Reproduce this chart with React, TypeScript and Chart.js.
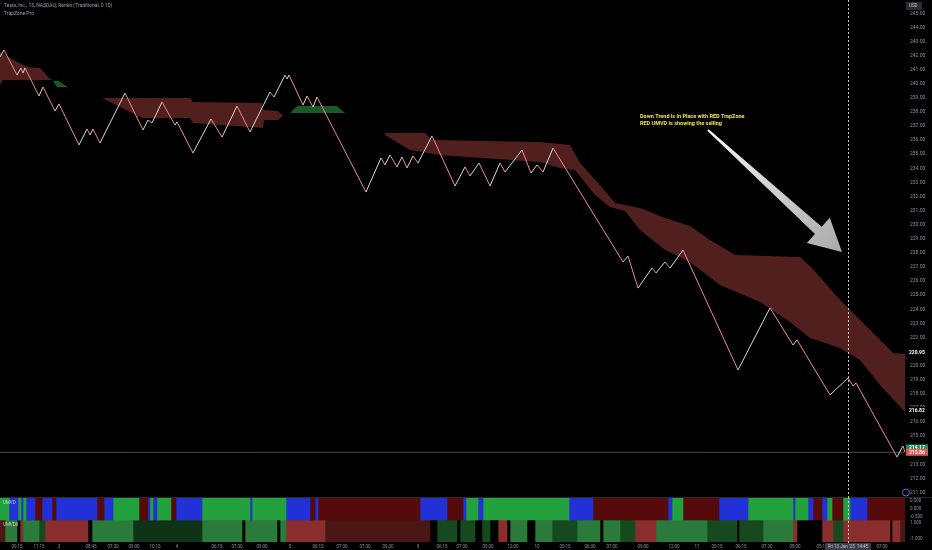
import React, { useEffect, useRef } from 'react';
import { Chart, registerables } from 'chart.js';
Chart.register(...registerables);

const FONT = 'Roboto, "Noto Sans", sans-serif';
const AXIS_TEXT = '#8d919a';

// ---------- main pane data (bar index, price) ----------
const X_MAX = 905;
const Y_MIN = 210.69;
const Y_MAX = 245.94;
const LAST_PRICE = 213.86;
const CURSOR_BAR = 848;

const renkoPivots: [number, number][] = [
  [0, 241.9], [4, 242.4], [17, 240.62], [21, 241.12], [23, 240.76], [25, 241.12], [39, 239.13], [43, 239.77],
  [55, 238.07], [59, 238.57], [79, 235.66], [87, 236.79], [90, 236.37], [93, 236.79], [100, 235.8], [125, 239.34],
  [143, 236.72], [148, 237.43], [152, 237.22], [162, 238.71], [175, 237.07], [177, 237.29], [193, 235.09], [211, 237.5],
  [222, 236.22], [237, 238.42], [250, 236.58], [270, 239.42], [274, 239.06], [285, 240.62], [287, 240.34], [289, 240.62],
  [303, 238.49], [307, 239.13], [313, 238.35], [317, 239.06], [366, 232.32], [381, 234.74], [385, 234.24], [390, 234.95],
  [397, 234.1], [402, 234.81], [407, 234.03], [413, 234.88], [418, 234.38], [432, 236.3], [455, 232.75], [465, 234.1],
  [470, 233.46], [479, 234.38], [490, 232.75], [500, 234.38], [505, 233.74], [522, 235.3], [531, 233.67], [537, 234.24],
  [543, 233.74], [553, 235.44], [623, 227.36], [628, 227.78], [638, 225.51], [652, 226.93], [656, 226.58], [665, 227.36],
  [670, 226.93], [683, 228.21], [738, 219.7], [770, 224.1], [793, 221.47], [797, 221.83], [830, 217.93], [848, 219.13],
  [853, 218.57], [856, 218.78], [897, 213.53], [903, 214.31], [905, 213.88],
];

// TrapZone cloud edges
const zoneA_top: [number, number][] = [[0, 242.25], [10, 241.83], [27, 241.19], [40, 241.12], [50, 240.34], [53, 240.27]];
const zoneA_bot: [number, number][] = [[0, 239.92], [3, 240.27], [53, 240.27]];
const zoneAg_top: [number, number][] = [[53, 240.22], [58, 240.22], [68, 239.75]];
const zoneAg_bot: [number, number][] = [[53, 240.22], [57, 239.75], [68, 239.75]];
const zoneB_top: [number, number][] = [[102, 238.99], [190, 238.99], [193, 238.71], [262, 238.64], [263, 238.14], [278, 238.07], [283, 237.72]];
const zoneB_bot: [number, number][] = [[102, 238.99], [120, 238.35], [143, 237.57], [190, 237.57], [193, 237.22], [263, 236.86], [264, 237.43], [278, 237.43], [283, 237.72]];
const zoneC_top: [number, number][] = [[290, 237.93], [297, 238.43], [337, 238.43], [345, 237.93]];
const zoneC_bot: [number, number][] = [[290, 237.93], [345, 237.93]];
const zoneD_top: [number, number][] = [
  [385, 236.51], [425, 236.51], [432, 236.01], [540, 235.87], [570, 235.66], [580, 234.38], [600, 232.82], [615, 231.55],
  [640, 231.19], [665, 230.48], [690, 229.91], [710, 228.92], [735, 227.86], [800, 227.72], [812, 226.94], [840, 224.67],
  [860, 223.25], [885, 221.48], [893, 220.91], [905, 220.84],
];
const zoneD_bot: [number, number][] = [
  [385, 236.37], [410, 235.3], [440, 234.95], [540, 234.45], [560, 234.03], [575, 233.89], [595, 232.11], [610, 231.26],
  [625, 230.98], [640, 229.63], [665, 228.21], [690, 227.36], [720, 225.73], [760, 224.52], [790, 223.11], [810, 221.97],
  [840, 221.26], [860, 220.41], [880, 218.64], [905, 216.72],
];

const noteLines = ['Down Trend is in Place with RED TrapZone', 'RED UMVD is showing the selling'];
const noteBar = 640;
const notePrices = [237.64, 237.15];
const arrowBars = [708, 842];
const arrowPrices = [236.72, 228.07];

const priceTags = [
  { price: 220.95, bg: '#000000', fg: '#ffffff' },
  { price: 216.82, bg: '#000000', fg: '#ffffff' },
  { price: 214.17, bg: '#1f8f5a', fg: '#ffffff' },
  { price: 213.86, bg: '#e0534f', fg: '#ffffff' },
];

// ---------- indicator strips ----------
const STRIP_END = 906;
const umvdStarts = [0, 9, 18, 21, 23, 26, 35, 42, 52, 56, 97, 104, 113, 139, 148, 150, 153, 157, 171, 176, 202, 250, 252, 286, 310, 315, 318, 420, 447, 463, 466, 478, 483, 569, 593, 668, 672, 683, 719, 748, 793, 795, 808, 813, 822, 827, 832, 843, 850, 867];
const umvdKinds = ['g', 'b', 'g', 'b', 'g', 'b', 'r', 'b', 'r', 'b', 'r', 'b', 'g', 'r', 'b', 'g', 'b', 'g', 'r', 'b', 'g', 'b', 'g', 'b', 'r', 'b', 'r', 'b', 'r', 'b', 'g', 'b', 'g', 'b', 'r', 'b', 'g', 'r', 'b', 'g', 'b', 'g', 'b', 'r', 'b', 'g', 'r', 'g', 'b', 'r'];
const umvdxStarts = [0, 5, 17, 20, 23, 39, 45, 88, 92, 133, 202, 242, 245, 277, 280, 286, 325, 430, 437, 457, 460, 475, 482, 490, 498, 507, 510, 527, 535, 552, 577, 600, 603, 620, 635, 656, 707, 737, 739, 763, 793, 797, 822, 833, 843, 890, 892, 900];
const umvdxKinds = ['D', 'G', 'k', 'R', 'G', 'h', 'R', 'k', 'G', 'd', 'G', 'k', 'G', 'k', 'G', 'R', 'D', 'k', 'h', 'k', 'h', 'k', 'h', 'k', 'R', 'k', 'G', 'k', 'G', 'h', 'G', 'k', 'G', 'h', 'R', 'G', 'h', 'k', 'h', 'G', 'R', 'k', 'R', 'h', 'R', 'k', 'R', 'D'];
const stripPalette: Record<string, string> = {
  b: '#2231d6', g: '#22a13c', r: '#560a0a',
  R: '#8a2d2d', D: '#4a1616', G: '#2a7b39', h: '#17491f', d: '#0f3317', k: '#000000',
};
const stripRows = ['UMVD', 'UMVDX'];
const stripAxisLabels = [['0.500', '0.000', '-0.500'], ['1.000', '-1.000']];

const timeTickBars = [17, 39, 59, 91, 113, 134, 155, 177, 217, 237, 262, 290, 318, 342, 365, 388, 418, 442, 462, 488, 513, 537, 565, 590, 612, 643, 674, 697, 717, 741, 767, 795, 822, 882];
const timeTickLabels = ['09:15', '11:15', '3', '08:45', '07:30', '09:00', '10:15', '4', '06:15', '07:30', '09:00', '5', '06:15', '07:30', '07:30', '09:30', '9', '06:15', '07:30', '09:00', '12:00', '10', '05:15', '06:30', '07:00', '09:00', '12:00', '11', '05:15', '06:15', '07:30', '08:00', '05:15', '07:00'];
const cursorLabel = "Fri 13 Jun '25  14:45";

const pts = (a: [number, number][]) => a.map(([x, y]) => ({ x, y }));

function zonePair(top: [number, number][], bot: [number, number][], color: string) {
  return [
    { type: 'line', data: pts(top), borderWidth: 0, pointRadius: 0, backgroundColor: color, fill: { target: '+1' }, order: 5, tension: 0 },
    { type: 'line', data: pts(bot), borderWidth: 0, pointRadius: 0, fill: false, order: 5, tension: 0 },
  ];
}

const RED_ZONE = 'rgba(96,36,36,0.85)';
const GREEN_ZONE = 'rgba(28,100,44,0.9)';

function drawCursor(chart: any, ctx: CanvasRenderingContext2D) {
  const x = Math.round(chart.scales.x.getPixelForValue(CURSOR_BAR)) + 0.5;
  ctx.save();
  ctx.strokeStyle = 'rgba(220,220,220,0.9)';
  ctx.lineWidth = 1;
  ctx.setLineDash([2, 2]);
  ctx.beginPath();
  ctx.moveTo(x, 0);
  ctx.lineTo(x, chart.height);
  ctx.stroke();
  ctx.restore();
}

const mainOverlay = {
  id: 'mainOverlay',
  afterDraw(chart: any) {
    const { ctx, scales } = chart;
    const xs = scales.x, ys = scales.y;
    // arrow
    const x0 = xs.getPixelForValue(arrowBars[0]), y0 = ys.getPixelForValue(arrowPrices[0]);
    const x1 = xs.getPixelForValue(arrowBars[1]), y1 = ys.getPixelForValue(arrowPrices[1]);
    const dx = x1 - x0, dy = y1 - y0, len = Math.hypot(dx, dy);
    const ux = dx / len, uy = dy / len, nx = -uy, ny = ux;
    const headLen = 32, headW = 17, w0 = 1, w1 = 5;
    const bx = x1 - ux * headLen, by = y1 - uy * headLen;
    const grad = ctx.createLinearGradient(x0, y0, x1, y1);
    grad.addColorStop(0, '#f4f4f4');
    grad.addColorStop(1, '#a9a9a9');
    ctx.save();
    ctx.fillStyle = grad;
    ctx.beginPath();
    ctx.moveTo(x0 + nx * w0, y0 + ny * w0);
    ctx.lineTo(bx + nx * w1, by + ny * w1);
    ctx.lineTo(bx + nx * headW, by + ny * headW);
    ctx.lineTo(x1, y1);
    ctx.lineTo(bx - nx * headW, by - ny * headW);
    ctx.lineTo(bx - nx * w1, by - ny * w1);
    ctx.lineTo(x0 - nx * w0, y0 - ny * w0);
    ctx.closePath();
    ctx.fill();
    ctx.restore();

    // note
    ctx.save();
    ctx.fillStyle = '#f2e24a';
    ctx.font = `bold 5.5px ${FONT}`;
    ctx.textBaseline = 'middle';
    noteLines.forEach((t, i) => ctx.fillText(t, xs.getPixelForValue(noteBar), ys.getPixelForValue(notePrices[i])));
    ctx.restore();

    // header
    ctx.save();
    ctx.fillStyle = '#9a9ea6';
    ctx.font = `5px ${FONT}`;
    ctx.textBaseline = 'middle';
    ctx.fillText('Tesla, Inc., 15, NASDAQ, Renko (Traditional, 0.10)', 4, 6);
    ctx.fillText('TrapZone Pro', 4, 14);
    ctx.restore();

    drawCursor(chart, ctx);

    // price tags on axis
    ctx.save();
    ctx.font = `bold 5px ${FONT}`;
    ctx.textBaseline = 'middle';
    priceTags.forEach((t) => {
      const y = ys.getPixelForValue(t.price);
      ctx.fillStyle = t.bg;
      ctx.fillRect(906, y - 3.5, 22, 7);
      ctx.fillStyle = t.fg;
      ctx.fillText(t.price.toFixed(2), 909, y);
    });
    // USD box
    ctx.fillStyle = '#2a2d35';
    ctx.fillRect(906, 2, 16, 8);
    ctx.fillStyle = '#c8cad0';
    ctx.font = `4.5px ${FONT}`;
    ctx.fillText('USD', 909, 6);
    // eye icon
    ctx.strokeStyle = '#7a5cc8';
    ctx.lineWidth = 1;
    ctx.beginPath();
    ctx.arc(906, 492.5, 3.5, 0, Math.PI * 2);
    ctx.stroke();
    ctx.restore();
  },
};

const stripOverlay = {
  id: 'stripOverlay',
  afterDraw(chart: any) {
    const { ctx, scales, chartArea } = chart;
    const ys = scales.y;
    ctx.save();
    ctx.font = `4.5px ${FONT}`;
    ctx.textBaseline = 'middle';
    stripRows.forEach((name, i) => {
      const c = ys.getPixelForValue(i);
      const h = (chartArea.bottom - chartArea.top) / stripRows.length;
      ctx.fillStyle = 'rgba(230,230,230,0.8)';
      ctx.fillText(name, 3, c - h / 2 + 5);
      const labels = stripAxisLabels[i];
      ctx.fillStyle = AXIS_TEXT;
      labels.forEach((l, j) => {
        const y = c - h / 2 + 3 + (j * (h - 6)) / Math.max(1, labels.length - 1);
        ctx.fillText(l, 910, y);
      });
    });
    ctx.strokeStyle = '#2a2a2a';
    ctx.beginPath();
    ctx.moveTo(0, 0.5);
    ctx.lineTo(chart.width, 0.5);
    ctx.stroke();
    ctx.restore();

    drawCursor(chart, ctx);

    const x = chart.scales.x.getPixelForValue(CURSOR_BAR);
    ctx.save();
    ctx.font = `4.5px ${FONT}`;
    const w = ctx.measureText(cursorLabel).width + 6;
    ctx.fillStyle = '#3a3d45';
    ctx.fillRect(x - w / 2, chartArea.bottom + 1, w, 7);
    ctx.fillStyle = '#d0d2d8';
    ctx.textBaseline = 'middle';
    ctx.textAlign = 'center';
    ctx.fillText(cursorLabel, x, chartArea.bottom + 4.5);
    ctx.restore();
  },
};

function stripDatasets() {
  const rows = [
    { starts: umvdStarts, kinds: umvdKinds },
    { starts: umvdxStarts, kinds: umvdxKinds },
  ];
  const out: any[] = [];
  rows.forEach((row, ri) => {
    row.starts.forEach((s, i) => {
      const e = i + 1 < row.starts.length ? row.starts[i + 1] : STRIP_END;
      const data: any[] = stripRows.map((_, k) => (k === ri ? [s, e] : null));
      out.push({
        type: 'bar',
        data,
        backgroundColor: stripPalette[row.kinds[i]],
        borderWidth: 0,
        grouped: false,
        barPercentage: 1,
        categoryPercentage: 1,
      });
    });
  });
  return out;
}

export default function App() {
  const mainRef = useRef<HTMLCanvasElement>(null);
  const stripRef = useRef<HTMLCanvasElement>(null);

  useEffect(() => {
    const main = new Chart(mainRef.current as HTMLCanvasElement, {
      type: 'line',
      data: {
        datasets: [
          {
            data: pts(renkoPivots),
            borderWidth: 1,
            pointRadius: 0,
            tension: 0,
            fill: false,
            order: 0,
            borderColor: '#e88484',
            segment: {
              borderColor: (c: any) => (c.p1.parsed.y >= c.p0.parsed.y ? '#d9d9d9' : '#ec8a8a'),
            },
          } as any,
          {
            data: [{ x: 0, y: LAST_PRICE }, { x: X_MAX, y: LAST_PRICE }],
            borderWidth: 1,
            borderColor: 'rgba(110,110,110,0.7)',
            pointRadius: 0,
            fill: false,
            order: 1,
          } as any,
          ...(zonePair(zoneA_top, zoneA_bot, RED_ZONE) as any),
          ...(zonePair(zoneAg_top, zoneAg_bot, GREEN_ZONE) as any),
          ...(zonePair(zoneB_top, zoneB_bot, RED_ZONE) as any),
          ...(zonePair(zoneC_top, zoneC_bot, GREEN_ZONE) as any),
          ...(zonePair(zoneD_top, zoneD_bot, RED_ZONE) as any),
        ],
      },
      options: {
        animation: false,
        responsive: false,
        maintainAspectRatio: false,
        layout: { padding: 0 },
        plugins: { legend: { display: false }, tooltip: { enabled: false } },
        scales: {
          x: { type: 'linear', min: 0, max: X_MAX, display: false },
          y: {
            type: 'linear',
            position: 'right',
            min: Y_MIN,
            max: Y_MAX,
            grid: { display: false, drawTicks: false },
            border: { display: false },
            ticks: {
              stepSize: 1,
              includeBounds: false,
              color: AXIS_TEXT,
              font: { size: 5, family: FONT },
              padding: 5,
              callback: (v: any) => Number(v).toFixed(2),
            },
            afterFit: (s: any) => {
              s.width = 932 - X_MAX;
              s.paddingTop = 0;
              s.paddingBottom = 0;
            },
          } as any,
        },
      },
      plugins: [mainOverlay],
    });

    const strip = new Chart(stripRef.current as HTMLCanvasElement, {
      type: 'bar',
      data: { labels: stripRows, datasets: stripDatasets() },
      options: {
        indexAxis: 'y',
        animation: false,
        responsive: false,
        maintainAspectRatio: false,
        layout: { padding: { top: 1 } },
        plugins: { legend: { display: false }, tooltip: { enabled: false } },
        scales: {
          x: {
            type: 'linear',
            min: 0,
            max: X_MAX,
            grid: { display: false, drawTicks: false },
            border: { display: false },
            afterBuildTicks: (s: any) => {
              s.ticks = timeTickBars.map((v) => ({ value: v }));
            },
            ticks: {
              autoSkip: false,
              maxRotation: 0,
              color: AXIS_TEXT,
              font: { size: 4.5, family: FONT },
              padding: 2,
              callback: (_v: any, i: number) => timeTickLabels[i],
            },
            afterFit: (s: any) => {
              s.height = 8;
              s.paddingLeft = 0;
              s.paddingRight = 0;
            },
          } as any,
          y: {
            type: 'category',
            position: 'right',
            grid: { display: false, drawTicks: false },
            border: { display: false },
            ticks: { display: false },
            afterFit: (s: any) => {
              s.width = 932 - X_MAX;
            },
          } as any,
        },
      },
      plugins: [stripOverlay],
    });

    return () => {
      main.destroy();
      strip.destroy();
    };
  }, []);

  return (
    <div style={{ position: 'fixed', left: 0, top: 0, width: 932, height: 550, background: '#000', overflow: 'hidden' }}>
      <canvas ref={mainRef} width={932} height={497} style={{ position: 'absolute', left: 0, top: 0, width: 932, height: 497 }} />
      <canvas ref={stripRef} width={932} height={53} style={{ position: 'absolute', left: 0, top: 497, width: 932, height: 53 }} />
    </div>
  );
}
